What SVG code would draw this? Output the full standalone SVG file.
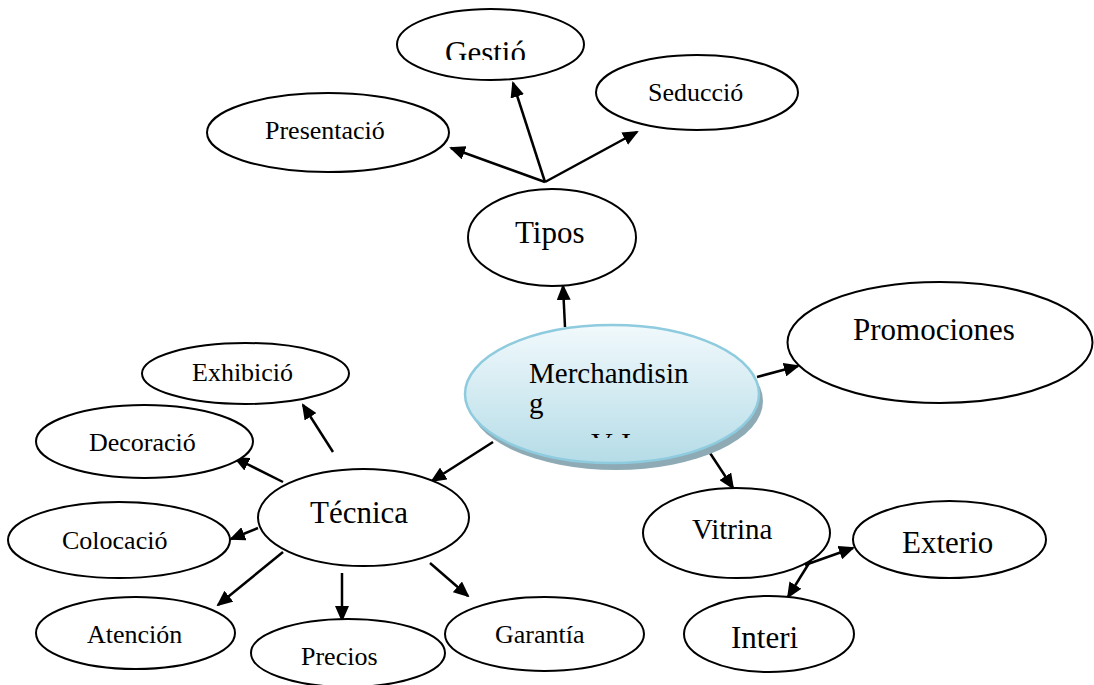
<svg xmlns="http://www.w3.org/2000/svg" width="1094" height="685" viewBox="0 0 1094 685">
  <style>
    .node { fill: #ffffff; stroke: #000000; stroke-width: 2; }
    .lbl { font-family: "Liberation Serif", "Times New Roman", serif; fill: #000000; }
    .s26 { font-size: 26px; }
    .s29 { font-size: 29px; }
    .s31 { font-size: 31px; }
    .edge { stroke: #000000; stroke-width: 2.5; fill: none; marker-end: url(#head); }
  </style>
  <defs>
    <marker id="head" markerUnits="userSpaceOnUse" markerWidth="16" markerHeight="14" refX="14" refY="7" orient="auto">
      <path d="M0,0 L16,7 L0,14 z" fill="#000000"/>
    </marker>
    <linearGradient id="hubFill" x1="0" y1="0" x2="0" y2="1">
      <stop offset="0" stop-color="#f1f9fc"/>
      <stop offset="1" stop-color="#b5dce7"/>
    </linearGradient>
    <clipPath id="clipGestio">
      <rect x="380" y="0" width="220" height="60"/>
    </clipPath>
    <clipPath id="clipHub">
      <rect x="460" y="320" width="300" height="118"/>
    </clipPath>
  </defs>

  <!-- connectors -->
  <g id="connectors">
    <line class="edge" x1="545" y1="182" x2="451" y2="148"/>
    <line class="edge" x1="545" y1="182" x2="513" y2="83"/>
    <line class="edge" x1="545" y1="182" x2="637" y2="132"/>
    <line class="edge" x1="565" y1="327" x2="563" y2="286"/>
    <line class="edge" x1="757" y1="377" x2="798" y2="366"/>
    <line class="edge" x1="493" y1="442" x2="432" y2="481"/>
    <line class="edge" x1="710" y1="453" x2="733" y2="488"/>
    <line class="edge" x1="805" y1="565" x2="853" y2="548"/>
    <line class="edge" x1="811" y1="560" x2="788" y2="597"/>
    <line class="edge" x1="333" y1="452" x2="303" y2="405"/>
    <line class="edge" x1="283" y1="482" x2="235" y2="458"/>
    <line class="edge" x1="258" y1="528" x2="231" y2="539"/>
    <line class="edge" x1="283" y1="552" x2="218" y2="605"/>
    <line class="edge" x1="342" y1="573" x2="342" y2="620"/>
    <line class="edge" x1="430" y1="563" x2="468" y2="596"/>
  </g>

  <!-- top branch -->
  <g id="gestio">
    <ellipse class="node" cx="490.5" cy="44.5" rx="93.5" ry="35.5"/>
    <text class="lbl s31" x="445" y="63" clip-path="url(#clipGestio)">Gestió</text>
  </g>
  <g id="seduccio">
    <ellipse class="node" cx="697" cy="92.5" rx="101" ry="37.5"/>
    <text class="lbl s26" x="648" y="101">Seducció</text>
  </g>
  <g id="presentacio">
    <ellipse class="node" cx="328" cy="132.5" rx="121" ry="39.5"/>
    <text class="lbl s26" x="265" y="139">Presentació</text>
  </g>
  <g id="tipos">
    <ellipse class="node" cx="552" cy="237.5" rx="84" ry="48.5"/>
    <text class="lbl s31" x="515" y="243">Tipos</text>
  </g>
  <g id="promociones">
    <ellipse class="node" cx="940" cy="342.5" rx="152.5" ry="60.5"/>
    <text class="lbl s31" x="853" y="340">Promociones</text>
  </g>

  <!-- central node -->
  <g id="merchandising">
    <ellipse cx="616" cy="401" rx="147" ry="69" fill="#8eaab5"/>
    <ellipse cx="612" cy="394" rx="147" ry="69" fill="url(#hubFill)" stroke="#8ecbde" stroke-width="2.5"/>
    <g clip-path="url(#clipHub)">
      <text class="lbl s29" x="529" y="383">Merchandisin</text>
      <text class="lbl s29" x="529" y="413">g</text>
      <text class="lbl" font-size="30" y="453"><tspan x="591">V</tspan><tspan x="621">I</tspan></text>
    </g>
  </g>

  <!-- right branch -->
  <g id="vitrina">
    <ellipse class="node" cx="736.5" cy="533" rx="93.5" ry="45"/>
    <text class="lbl s29" x="692" y="539">Vitrina</text>
  </g>
  <g id="exterio">
    <ellipse class="node" cx="949.5" cy="539.5" rx="96.5" ry="38.5"/>
    <text class="lbl s31" x="902" y="553">Exterio</text>
  </g>
  <g id="interi">
    <ellipse class="node" cx="769" cy="634" rx="85" ry="38"/>
    <text class="lbl s31" x="731" y="648">Interi</text>
  </g>

  <!-- left branch -->
  <g id="tecnica">
    <ellipse class="node" cx="363.5" cy="517.5" rx="105.5" ry="48.5"/>
    <text class="lbl s31" x="310" y="523">Técnica</text>
  </g>
  <g id="exhibicio">
    <ellipse class="node" cx="245.5" cy="373.5" rx="103.5" ry="30.5"/>
    <text class="lbl s26" x="192" y="381">Exhibició</text>
  </g>
  <g id="decoracio">
    <ellipse class="node" cx="144.5" cy="441.5" rx="108.5" ry="36.5"/>
    <text class="lbl s26" x="89" y="451">Decoració</text>
  </g>
  <g id="colocacio">
    <ellipse class="node" cx="119" cy="540" rx="111" ry="38"/>
    <text class="lbl s26" x="62" y="549">Colocació</text>
  </g>
  <g id="atencion">
    <ellipse class="node" cx="135.5" cy="633" rx="99.5" ry="36"/>
    <text class="lbl s26" x="87" y="643">Atención</text>
  </g>
  <g id="precios">
    <ellipse class="node" cx="348" cy="653" rx="97" ry="34"/>
    <text class="lbl s26" x="301" y="665">Precios</text>
  </g>
  <g id="garantia">
    <ellipse class="node" cx="544.5" cy="634" rx="99.5" ry="37"/>
    <text class="lbl s26" x="495" y="643">Garantía</text>
  </g>
</svg>
